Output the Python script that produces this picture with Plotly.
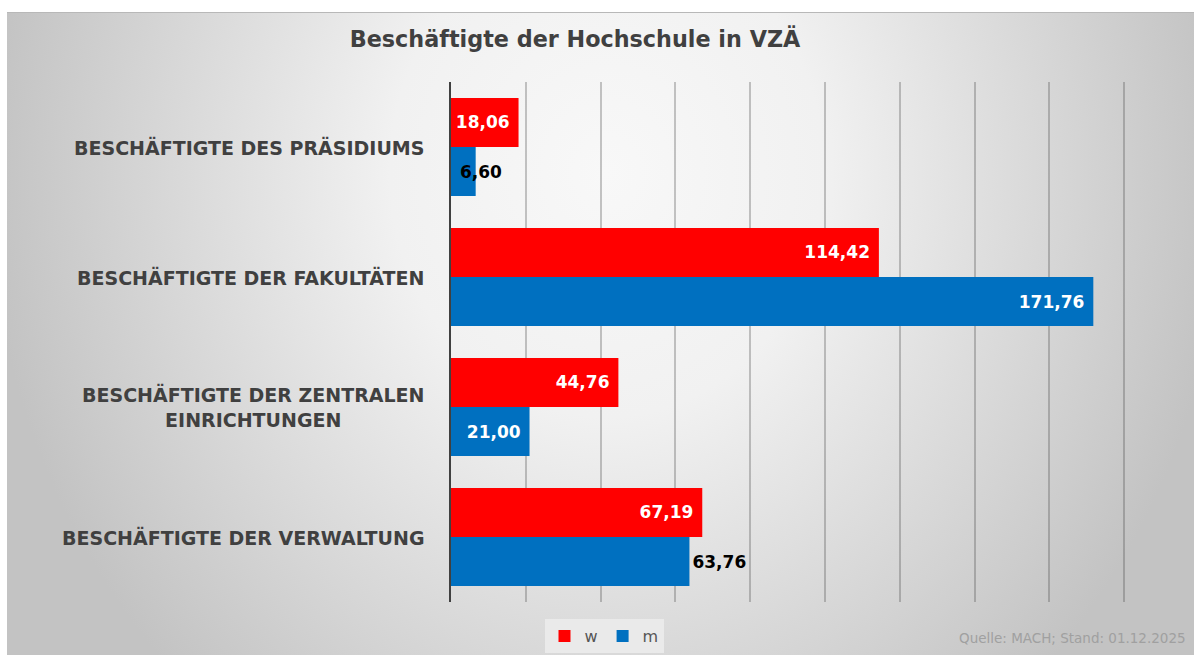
import base64
import plotly.graph_objects as go

# ---- data ----
categories = [
    "BESCHÄFTIGTE DES PRÄSIDIUMS",
    "BESCHÄFTIGTE DER FAKULTÄTEN",
    "BESCHÄFTIGTE DER ZENTRALEN<br>EINRICHTUNGEN",
    "BESCHÄFTIGTE DER VERWALTUNG",
]
w_values = [18.06, 114.42, 44.76, 67.19]
m_values = [6.60, 171.76, 21.00, 63.76]
series_names = ["w", "m"]
title_text = "Beschäftigte der Hochschule in VZÄ"
source_text = "Quelle: MACH; Stand: 01.12.2025"

RED = "#ff0000"
BLUE = "#0070c0"
DARK = "#404040"
FONT = "DejaVu Sans"

W, H = 1194, 657
ML, MR, MT, MB = 451, 68, 82, 55
PW = W - ML - MR
PH = H - MT - MB


def px_x(px):
    return (px - ML) / PW


def px_y(py):
    return (H - MB - py) / PH


# background radial gradient (svg data uri)
gx0, gy0, gx1, gy1 = 7, 12, 1194, 655
gw, gh = gx1 - gx0, gy1 - gy0
svg = f"""<svg xmlns='http://www.w3.org/2000/svg' width='{gw}' height='{gh}' viewBox='0 0 {gw} {gh}' preserveAspectRatio='none'>
<defs><radialGradient id='g' gradientUnits='userSpaceOnUse' cx='0' cy='0' r='1' gradientTransform='translate(600,160) scale(620,700)'>
<stop offset='0' stop-color='#f8f8f8'/><stop offset='0.35' stop-color='#f1f1f1'/><stop offset='1' stop-color='#c3c3c3'/>
</radialGradient></defs>
<rect x='0' y='0' width='{gw}' height='{gh}' fill='url(#g)'/>
<line x1='0' y1='0.5' x2='{gw}' y2='0.5' stroke='#b8b8b8' stroke-width='1'/>
</svg>"""
svg_uri = "data:image/svg+xml;base64," + base64.b64encode(svg.encode("utf-8")).decode("ascii")

label_font = dict(family=FONT, size=17, weight="bold")
NBSP = "\u00a0"

fig = go.Figure()

fig.add_trace(go.Bar(
    y=categories, x=w_values, name=series_names[0], orientation="h",
    marker=dict(color=RED, line=dict(width=0)),
    texttemplate="%{x:.2f}" + NBSP, textposition="inside", insidetextanchor="end",
    constraintext="none",
    insidetextfont=dict(color="white", **label_font),
    outsidetextfont=dict(color="black", **label_font),
    cliponaxis=False,
))
fig.add_trace(go.Bar(
    y=categories, x=m_values, name=series_names[1], orientation="h",
    marker=dict(color=BLUE, line=dict(width=0)),
    texttemplate="%{x:.2f}" + NBSP, textposition=["none", "inside", "inside", "outside"],
    insidetextanchor="end", constraintext="none",
    insidetextfont=dict(color="white", **label_font),
    outsidetextfont=dict(color="black", **label_font),
    cliponaxis=False,
))

annotations = []
# category labels (centered multi-line)
for c in categories:
    annotations.append(dict(
        x=0, xref="paper", y=c, yref="y", xanchor="right", yanchor="middle",
        xshift=-25, text=c, showarrow=False, align="center",
        font=dict(family=FONT, size=19, color=DARK, weight="bold"),
    ))
# small label that overflows its bar
annotations.append(dict(
    x=m_values[0], xref="x", y=categories[0], yref="y", yshift=-25,
    xanchor="center", yanchor="middle", xshift=5,
    text=f"{m_values[0]:.2f}".replace(".", ","), showarrow=False,
    font=dict(color="black", **label_font),
))
# source
annotations.append(dict(
    x=px_x(1188), xref="paper", y=px_y(638), yref="paper",
    xanchor="right", yanchor="middle", text=source_text, showarrow=False,
    font=dict(family=FONT, size=13.5, color="#a0a0a0"),
))

fig.update_layout(
    width=W, height=H, autosize=False,
    margin=dict(l=ML, r=MR, t=MT, b=MB, autoexpand=False),
    paper_bgcolor="white", plot_bgcolor="rgba(0,0,0,0)",
    separators=",.",
    barmode="group", bargap=0.246, bargroupgap=0.0,
    title=dict(text=f"<b>{title_text}</b>", x=575 / W, xanchor="center",
               y=1 - 39 / H, yanchor="middle",
               font=dict(family=FONT, size=22.3, color=DARK)),
    xaxis=dict(range=[0, 180.5], dtick=20, tick0=0, showticklabels=False,
               showgrid=True, gridcolor="rgba(70,70,70,0.3)", gridwidth=1.5,
               zeroline=False, showline=False, fixedrange=True),
    yaxis=dict(type="category", categoryorder="array", categoryarray=categories,
               autorange="reversed", showticklabels=False, showgrid=False,
               showline=True, linecolor=DARK, linewidth=2, zeroline=False,
               fixedrange=True),
    legend=dict(orientation="h", xref="container", x=604 / W, xanchor="center",
                yref="container", y=1 - 636 / H, yanchor="middle",
                bgcolor="rgba(235,235,235,0.9)",
                font=dict(family=FONT, size=16, color="#555555"),
                itemwidth=30, traceorder="normal"),
    annotations=annotations,
    images=[dict(source=svg_uri, xref="paper", yref="paper",
                 x=px_x(gx0), y=px_y(gy0), sizex=gw / PW, sizey=gh / PH,
                 xanchor="left", yanchor="top", sizing="stretch",
                 layer="below", opacity=1)],
)

fig.write_html("out.html", config={"displayModeBar": False},
               post_script="document.body.style.margin='0';document.body.style.overflow='hidden';")
